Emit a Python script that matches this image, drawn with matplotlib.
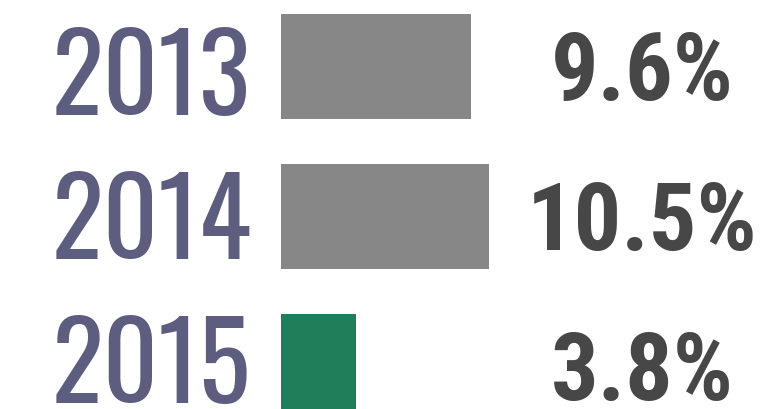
import matplotlib
matplotlib.use("Agg")
import matplotlib.pyplot as plt
from matplotlib import font_manager as fm
from matplotlib.textpath import TextPath
from matplotlib.font_manager import FontProperties

years = ["2013", "2014", "2015"]
values = [9.6, 10.5, 3.8]
labels = ["9.6%", "10.5%", "3.8%"]
bar_colors = ["#878787", "#878787", "#217e5a"]

available = {f.name for f in fm.fontManager.ttflist}
cands = ["Oswald", "Roboto Condensed", "Liberation Sans Narrow", "DejaVu Sans Condensed",
         "Open Sans Condensed", "Roboto", "DejaVu Sans"]
family = next(c for c in cands if c in available)


def wnum(w):
    if isinstance(w, (int, float)):
        return w
    return fm.weight_dict.get(str(w).lower(), 400)


bold_family = "DejaVu Sans"
bold_weight = "bold"
for c in cands:
    ws = [wnum(f.weight) for f in fm.fontManager.ttflist if f.name == c]
    if ws and max(ws) >= 700:
        bold_family = c
        bold_weight = max(ws)
        break


def size_for_height(text, fam, weight, px_height):
    fp = FontProperties(family=fam, weight=weight)
    tp = TextPath((0, 0), text, size=100, prop=fp)
    ext = tp.get_extents()
    return 100 * (px_height * 72 / 100) / ext.height


W, H = 775, 410
fig = plt.figure(figsize=(W / 100, H / 100), dpi=100)
ax = fig.add_axes([0, 0, 1, 1])
ax.axis("off")

px_per_unit_x = 19.8
x0 = 281
ax.set_xlim(-x0 / px_per_unit_x, (W - x0) / px_per_unit_x)
row_px = 150
c0 = 67.5
ax.set_ylim((H - c0) / row_px, -c0 / row_px)

pos = list(range(len(years)))
ax.barh(pos, values, height=0.7, color=bar_colors, left=0)

year_size = size_for_height("2013", family, "normal", 89)
lab_size = size_for_height("9.6", bold_family, bold_weight, 69)

for i, (y, lab) in enumerate(zip(years, labels)):
    ax.text((251 - x0) / px_per_unit_x, 0.317 + 0.96 * i, y, ha="right", va="baseline",
            fontsize=year_size, color="#5d5d80", family=family)
    ax.text((642 - x0) / px_per_unit_x, 0.215 + i, lab, ha="center", va="baseline",
            fontsize=lab_size, color="#474747", family=bold_family, fontweight=bold_weight)

fig.savefig("out.png", dpi=100)
